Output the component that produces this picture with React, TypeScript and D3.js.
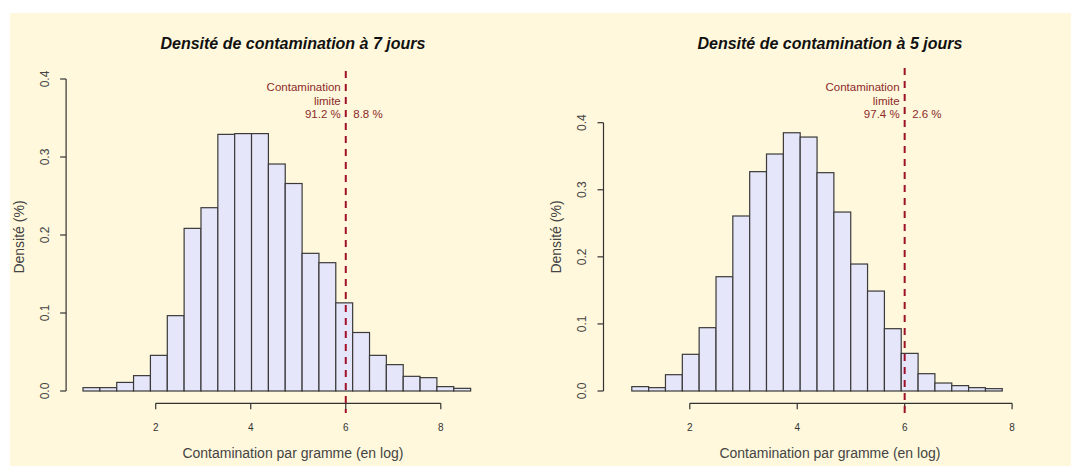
import { useEffect, useRef } from 'react'
import * as d3 from 'd3'

// bin edges + densities
const breaks7 = [0.47, 0.825, 1.18, 1.534, 1.889, 2.244, 2.598, 2.953, 3.308, 3.662, 4.017, 4.372, 4.726, 5.081, 5.436, 5.79, 6.145, 6.5, 6.854, 7.209, 7.564, 7.918, 8.273, 8.628]
const density7 = [0.0043, 0.0043, 0.011, 0.0197, 0.0457, 0.0966, 0.2085, 0.235, 0.329, 0.33, 0.33, 0.291, 0.266, 0.1765, 0.1645, 0.113, 0.075, 0.0457, 0.0338, 0.0188, 0.0171, 0.0056, 0.0034]

const breaks5 = [0.92, 1.234, 1.547, 1.861, 2.174, 2.488, 2.801, 3.115, 3.428, 3.742, 4.055, 4.369, 4.682, 4.996, 5.309, 5.623, 5.936, 6.25, 6.563, 6.877, 7.19, 7.504, 7.817]
const density5 = [0.0065, 0.005, 0.0243, 0.0547, 0.0944, 0.1704, 0.2609, 0.327, 0.3533, 0.385, 0.3786, 0.3255, 0.2668, 0.1893, 0.149, 0.0929, 0.0561, 0.0258, 0.0119, 0.008, 0.005, 0.0035]

const titles = ['Densité de contamination à 7 jours', 'Densité de contamination à 5 jours']
const belowLimit = ['91.2 %', '97.4 %']
const aboveLimit = ['8.8 %', '2.6 %']
const limitValue = 6
const xTicks = [2, 4, 6, 8]
const yTicks = [0, 0.1, 0.2, 0.3, 0.4]

const FONT = "'Liberation Sans', Arial, sans-serif"

const App = () => {
    const ref = useRef<SVGSVGElement>(null)

    useEffect(() => {
        const svg = d3.select(ref.current)
        svg.selectAll('*').remove()

        svg.append('rect').attr('width', 1071).attr('height', 466).attr('fill', '#fff')
        svg.append('rect')
            .attr('x', 10).attr('y', 13).attr('width', 1061).attr('height', 453)
            .attr('fill', '#FFF8DC')

        const panels = [
            { breaks: breaks7, dens: density7, xr: [155.7, 440.8], yTop: 79, left: 66.1, center: 292.9, dashTop: 71 },
            { breaks: breaks5, dens: density5, xr: [689.8, 1012.1], yTop: 122.7, left: 603.5, center: 829.9, dashTop: 68 },
        ]

        panels.forEach((p, i) => {
            const x = d3.scaleLinear().domain([2, 8]).range(p.xr)
            const y = d3.scaleLinear().domain([0, 0.4]).range([391, p.yTop])
            const g = svg.append('g').attr('font-family', FONT)

            // bars
            const bins = p.dens.map((d, k) => ({ x0: p.breaks[k], x1: p.breaks[k + 1], d }))
            g.append('g')
                .selectAll('rect')
                .data(bins)
                .join('rect')
                .attr('x', (b) => x(b.x0))
                .attr('width', (b) => x(b.x1) - x(b.x0))
                .attr('y', (b) => y(b.d))
                .attr('height', (b) => y(0) - y(b.d))
                .attr('fill', '#E6E6FA')
                .attr('stroke', '#3a3a3a')
                .attr('stroke-width', 1.2)

            // x axis (R style: line from first to last tick)
            const axY = 403.3
            g.append('line')
                .attr('x1', x(2)).attr('x2', x(8))
                .attr('y1', axY).attr('y2', axY)
                .attr('stroke', '#333').attr('stroke-width', 1.2)
            g.selectAll('.xt')
                .data(xTicks)
                .join('line')
                .attr('x1', (d) => x(d)).attr('x2', (d) => x(d))
                .attr('y1', axY).attr('y2', axY + 6)
                .attr('stroke', '#333').attr('stroke-width', 1.2)
            g.selectAll('.xl')
                .data(xTicks)
                .join('text')
                .attr('x', (d) => x(d))
                .attr('y', 430.5)
                .attr('text-anchor', 'middle')
                .attr('font-size', 10)
                .attr('fill', '#333')
                .text((d) => d)

            // y axis
            g.append('line')
                .attr('x1', p.left).attr('x2', p.left)
                .attr('y1', y(0)).attr('y2', y(0.4))
                .attr('stroke', '#333').attr('stroke-width', 1.2)
            g.selectAll('.yt')
                .data(yTicks)
                .join('line')
                .attr('x1', p.left - 6).attr('x2', p.left)
                .attr('y1', (d) => y(d)).attr('y2', (d) => y(d))
                .attr('stroke', '#333').attr('stroke-width', 1.2)
            g.selectAll('.yl')
                .data(yTicks)
                .join('text')
                .attr('transform', (d) => `translate(${p.left - 21.3},${y(d)}) rotate(-90)`)
                .attr('dy', '0.35em')
                .attr('text-anchor', 'middle')
                .attr('font-size', 12)
                .attr('fill', '#444')
                .text((d) => d3.format('.1f')(d))

            // axis titles
            g.append('text')
                .attr('transform', `translate(${p.left - 47},237) rotate(-90)`)
                .attr('dy', '0.35em')
                .attr('text-anchor', 'middle')
                .attr('font-size', 14)
                .attr('fill', '#444')
                .text('Densité (%)')
            g.append('text')
                .attr('x', p.center).attr('y', 458)
                .attr('text-anchor', 'middle')
                .attr('font-size', 14)
                .attr('fill', '#444')
                .text('Contamination par gramme (en log)')

            // title
            g.append('text')
                .attr('x', p.center).attr('y', 49)
                .attr('text-anchor', 'middle')
                .attr('font-size', 16)
                .attr('font-weight', 'bold')
                .attr('font-style', 'italic')
                .attr('fill', '#111')
                .text(titles[i])

            // limit line
            const lx = x(limitValue)
            g.append('line')
                .attr('x1', lx).attr('x2', lx)
                .attr('y1', p.dashTop).attr('y2', 413)
                .attr('stroke', '#A01028')
                .attr('stroke-width', 2)
                .attr('stroke-dasharray', '7,6')

            const red = '#8B2A2A'
            const lines = ['Contamination', 'limite', belowLimit[i]]
            g.selectAll('.ann')
                .data(lines)
                .join('text')
                .attr('x', lx - 5)
                .attr('y', (_, k) => 91 + k * 13.6)
                .attr('text-anchor', 'end')
                .attr('font-size', 11.5)
                .attr('fill', red)
                .text((d) => d)
            g.append('text')
                .attr('x', lx + 7.5)
                .attr('y', 91 + 2 * 13.6)
                .attr('font-size', 11.5)
                .attr('fill', red)
                .text(aboveLimit[i])
        })
    }, [])

    return (
        <svg
            ref={ref}
            width={1071}
            height={466}
            style={{ position: 'absolute', left: 0, top: 0 }}
        />
    )
}

export default App
